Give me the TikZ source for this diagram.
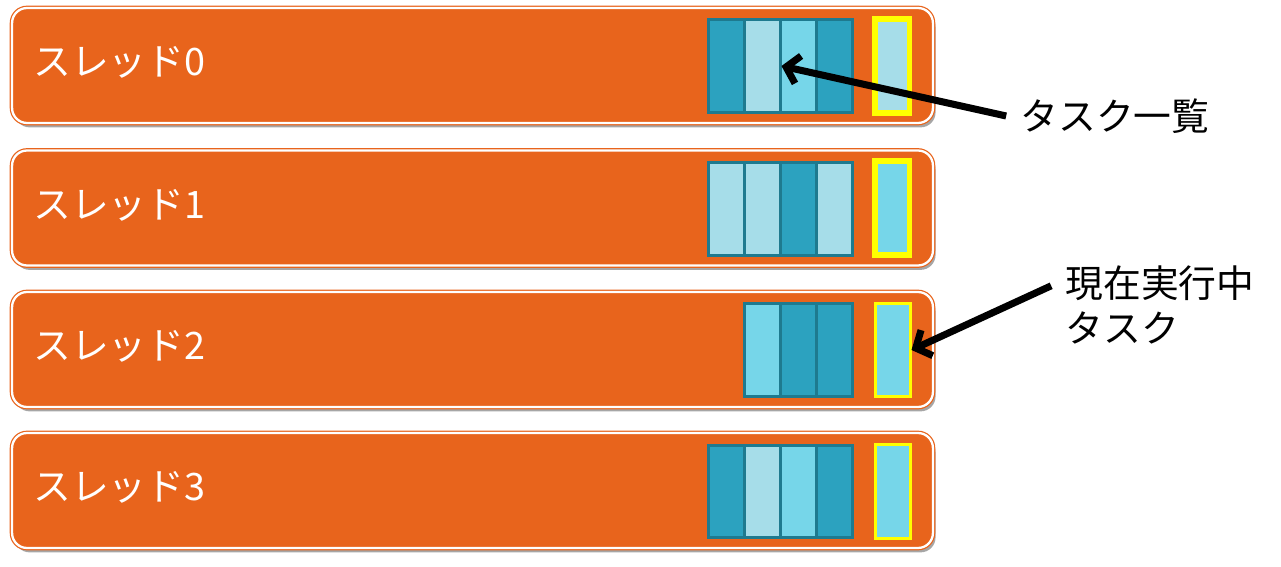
\documentclass[tikz,border=0pt]{standalone}
\usepackage{fontspec}
\usepackage{tikz}
\usetikzlibrary{arrows.meta,shadows}
\newfontfamily\jp{Noto Sans CJK JP}
\definecolor{barorange}{RGB}{232,100,28}
\definecolor{celldk}{RGB}{44,162,191}
\definecolor{celllt}{RGB}{166,221,233}
\definecolor{cellmd}{RGB}{118,214,233}
\definecolor{cellline}{RGB}{30,122,143}
\definecolor{curyellow}{RGB}{255,255,0}

\begin{document}
\begin{tikzpicture}[x=0.02cm, y=-0.02cm]
        \tikzstyle{bar} = [rectangle, rounded corners=8.5pt, fill=barorange, draw=barorange, line width=0.7pt,
          double=white, double distance=1.3pt, minimum width=18.42cm, minimum height=2.3cm,
          drop shadow={shadow xshift=1.5pt, shadow yshift=-2.5pt, fill=black, opacity=0.35}]
        \tikzstyle{thr} = [anchor=west, inner sep=0pt, text=white, font=\jp\fontsize{21.5}{26}\selectfont]
        \tikzstyle{c} = [rectangle, draw=cellline, line width=1.7pt, minimum width=0.72cm, minimum height=1.86cm, inner sep=0pt]
        \tikzstyle{cur} = [rectangle, draw=curyellow, minimum width=0.7cm, minimum height=1.88cm, inner sep=0pt]
        \tikzstyle{txt} = [inner sep=8pt, align=left, font=\jp\fontsize{21.5}{26}\selectfont]
        \tikzstyle{arr} = [line width=4pt, -{Straight Barb[length=7pt, width=16pt]}]
        \useasboundingbox (0,0) rectangle (1281,567);

        % threads
        \node[bar](bar0) at (472.5,65.5){};
        \node[bar](bar1) at (472.5,208){};
        \node[bar](bar2) at (472.5,349.5){};
        \node[bar](bar3) at (472.5,490.5){};

        \node[thr](n0) at (33,62.5){スレッド0};
        \node[thr](n1) at (33,205){スレッド1};
        \node[thr](n2) at (33,346.5){スレッド2};
        \node[thr](n3) at (33,487.5){スレッド3};

        % task queues
        \node[c, fill=celldk](c00) at (726,66){};
        \node[c, fill=celllt](c01) at (762,66){};
        \node[c, fill=cellmd](c02) at (798,66){};
        \node[c, fill=celldk](c03) at (834,66){};

        \node[c, fill=celllt](c10) at (726,209){};
        \node[c, fill=celllt](c11) at (762,209){};
        \node[c, fill=celldk](c12) at (798,209){};
        \node[c, fill=celllt](c13) at (834,209){};

        \node[c, fill=cellmd](c21) at (762,350){};
        \node[c, fill=celldk](c22) at (798,350){};
        \node[c, fill=celldk](c23) at (834,350){};

        \node[c, fill=celldk](c30) at (726,491.5){};
        \node[c, fill=celllt](c31) at (762,491.5){};
        \node[c, fill=cellmd](c32) at (798,491.5){};
        \node[c, fill=celldk](c33) at (834,491.5){};

        % running tasks
        \node[cur, fill=celllt, line width=3.4pt](cur0) at (892,66){};
        \node[cur, fill=cellmd, line width=3.4pt](cur1) at (892,208){};
        \node[cur, fill=cellmd, line width=1.7pt](cur2) at (892.5,350){};
        \node[cur, fill=cellmd, line width=1.7pt](cur3) at (892.5,491.5){};

        % notes
        \node[txt](list) at (1115,116){タスク一覧};
        \node[txt](run) at (1160,305){現在実行中\\タスク};

        \draw[arr](list.west) -- (c01.east);
        \draw[arr](run.170) -- (cur2.east);

    \end{tikzpicture}
\end{document}
